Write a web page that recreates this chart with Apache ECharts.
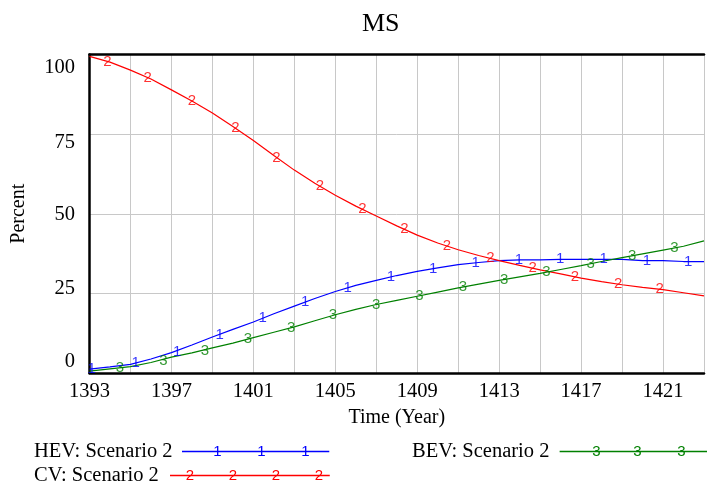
<!DOCTYPE html>
<html>
<head>
<meta charset="utf-8">
<script src="https://cdn.jsdelivr.net/npm/echarts@6/dist/echarts.min.js"></script>
<style>
html,body{margin:0;padding:0;background:#fff;}
#chart{width:707px;height:482px;}
</style>
</head>
<body>
<div id="chart"></div>
<script>
// ---- data ----
const years = [1393,1394,1395,1396,1397,1398,1399,1400,1401,1402,1403,1404,1405,1406,1407,1408,1409,1410,1411,1412,1413,1414,1415,1416,1417,1418,1419,1420,1421,1422,1423];
const hevValues = [1.2,1.9,2.7,4.4,6.4,8.8,11.3,13.7,16.0,18.6,21.0,23.4,25.6,27.5,29.1,30.6,31.9,33.0,34.0,34.7,35.3,35.5,35.5,35.7,35.7,35.7,35.7,35.3,35.3,35.0,35.0];
const cvValues  = [99.4,97.6,95.1,92.3,88.9,85.4,81.6,77.4,73.0,68.3,63.7,59.6,55.8,52.4,49.3,46.2,43.3,40.8,38.7,36.9,35.3,33.8,32.4,31.1,29.8,28.7,27.7,26.9,26.2,25.2,24.2];
const bevValues = [0.6,1.3,2.0,3.3,5.0,6.3,7.9,9.4,11.1,12.8,14.5,16.4,18.3,20.0,21.5,22.8,24.1,25.4,26.7,27.9,29.1,30.2,31.3,32.5,33.7,35.0,36.2,37.4,38.6,39.8,41.5];

// positions of the number markers drawn along each line
const hevMarkYears  = [1393.1,1395.26,1397.28,1399.35,1401.46,1403.53,1405.6,1407.71,1409.78,1411.85,1413.96,1415.98,1418.1,1420.21,1422.23];
const hevMarkValues = [1.3,3.1,6.7,12.1,17.2,22.3,26.7,30.2,32.8,34.6,35.5,35.7,35.7,35.3,35.0];
const cvMarkYears   = [1393.87,1395.84,1398.0,1400.12,1402.13,1404.25,1406.32,1408.38,1410.45,1412.57,1414.63,1416.7,1418.81,1420.84];
const cvMarkValues  = [97.8,92.75,85.4,76.9,67.7,58.65,51.4,45.1,39.9,36.0,32.9,30.2,27.9,26.3];
const bevMarkYears  = [1394.49,1396.61,1398.63,1400.74,1402.85,1404.88,1406.99,1409.11,1411.23,1413.24,1415.31,1417.47,1419.49,1421.56];
const bevMarkValues = [1.7,3.8,7.0,10.6,14.2,18.1,21.5,24.2,27.0,29.4,31.6,34.3,36.8,39.4];

const seriesNames = ['HEV: Scenario 2','CV: Scenario 2','BEV: Scenario 2'];
const seriesDigits = ['1','2','3'];
const yTickValues = [0,25,50,75,100];
const xLabelYears = [1393,1397,1401,1405,1409,1413,1417,1421];

// ---- styling ----
const colors = ['#0000ff','#ff0000','#008000'];
const serif = 'Liberation Serif, Times New Roman, serif';
const sans = 'Liberation Sans, Arial, sans-serif';
const tickFont = {fontFamily: serif, fontSize: 20.5, color: '#000'};
const yLabelShift = {0: -11.7, 25: -4.6, 50: 0.5, 75: 8.7, 100: 13};
const yRich = {};
yTickValues.forEach(v => {
  const s = yLabelShift[v];
  yRich['y' + v] = Object.assign({}, tickFont, {padding: s >= 0 ? [2*s,0,0,0] : [0,0,-2*s,0]});
});

function legendIcon(color, width, height, markOffsets, digit) {
  let svg = '<svg xmlns="http://www.w3.org/2000/svg" width="' + width + '" height="' + height +
    '" viewBox="0 0 ' + width + ' ' + height + '">' +
    '<line x1="0" y1="' + (height/2) + '" x2="' + width + '" y2="' + (height/2) +
    '" stroke="' + color + '" stroke-width="1.3"/>';
  markOffsets.forEach(m => {
    svg += '<text x="' + m + '" y="' + (height/2 + 4.6) + '" fill="' + color +
      '" font-family="Liberation Sans, Arial, sans-serif" font-size="15" text-anchor="middle">' + digit + '</text>';
  });
  svg += '</svg>';
  return 'image://data:image/svg+xml;charset=utf-8,' + encodeURIComponent(svg);
}

const pair = (xs, ys) => xs.map((x, i) => [x, ys[i]]);
const lineData = [pair(years, hevValues), pair(years, cvValues), pair(years, bevValues)];
const markData = [pair(hevMarkYears, hevMarkValues), pair(cvMarkYears, cvMarkValues), pair(bevMarkYears, bevMarkValues)];

const legendText = Object.assign({}, tickFont);
const legendH = 18;
const legends = [
  {name: seriesNames[0], left: 34, top: 450 - legendH/2, w: 148, marks: [36,80,124], pad: 4},
  {name: seriesNames[1], left: 34, top: 474 - legendH/2, w: 160, marks: [20,63,106,149], pad: 6},
  {name: seriesNames[2], left: 412, top: 450 - legendH/2, w: 148, marks: [37,78,122], pad: 5}
].map((l, i) => ({
  show: true, orient: 'horizontal', align: 'right', left: l.left, top: l.top, padding: 0,
  itemWidth: l.w, itemHeight: legendH, selectedMode: false,
  textStyle: Object.assign({}, legendText, {padding: [0, l.pad, 0, 0]}),
  data: [{name: l.name, icon: legendIcon(colors[seriesNames.indexOf(l.name)], l.w, legendH, l.marks, seriesDigits[seriesNames.indexOf(l.name)])}]
}));

const series = [];
seriesNames.forEach((name, i) => {
  series.push({
    name: name, type: 'line', data: lineData[i], showSymbol: false, symbol: 'none',
    lineStyle: {color: colors[i], width: 1.2}, itemStyle: {color: colors[i]}, z: 3, silent: true
  });
});
seriesNames.forEach((name, i) => {
  series.push({
    name: name + ' marks', type: 'scatter', data: markData[i], symbol: 'circle', symbolSize: 2,
    itemStyle: {color: 'rgba(0,0,0,0)'}, z: 4, silent: true,
    label: {show: true, position: 'inside', formatter: seriesDigits[i], color: colors[i],
            fontFamily: sans, fontSize: 15}
  });
});

const chart = echarts.init(document.getElementById('chart'), null, {renderer: 'canvas'});
chart.setOption({
  animation: false,
  backgroundColor: '#fff',
  title: {
    text: 'MS', left: 362, top: 11, padding: 0,
    textStyle: {fontFamily: serif, fontSize: 26, fontWeight: 'normal', color: '#000'}
  },
  legend: legends,
  grid: {left: 89.5, right: -7, top: 54.5, bottom: 109, containLabel: false},
  xAxis: [{
    type: 'value', min: years[0], max: years[years.length - 1], interval: 2,
    name: 'Time (Year)', nameLocation: 'middle', nameGap: 33.5,
    nameTextStyle: {fontFamily: serif, fontSize: 20, color: '#000'},
    axisLine: {show: true, onZero: false, lineStyle: {color: '#000', width: 2.5}},
    axisTick: {show: false},
    axisLabel: Object.assign({}, tickFont, {margin: 8.5,
      formatter: v => xLabelYears.indexOf(Math.round(v)) >= 0 ? String(Math.round(v)) : ''}),
    splitLine: {show: true, lineStyle: {color: '#c8c8c8', width: 1}}
  }, {
    type: 'value', position: 'top', min: years[0], max: years[years.length - 1],
    axisLine: {show: true, onZero: false, lineStyle: {color: '#000', width: 2.5}},
    axisTick: {show: false}, axisLabel: {show: false}, splitLine: {show: false}
  }],
  yAxis: {
    type: 'value', min: 0, max: 100, interval: 25,
    name: 'Percent', nameLocation: 'middle', nameGap: 61, nameRotate: 90,
    nameTextStyle: {fontFamily: serif, fontSize: 20, color: '#000'},
    axisLine: {show: true, onZero: false, lineStyle: {color: '#000', width: 2.5}},
    axisTick: {show: false},
    axisLabel: {margin: 14.5, formatter: v => '{y' + v + '|' + v + '}', rich: yRich},
    splitLine: {show: true, lineStyle: {color: '#c8c8c8', width: 1}}
  },
  series: series
});
</script>
</body>
</html>
